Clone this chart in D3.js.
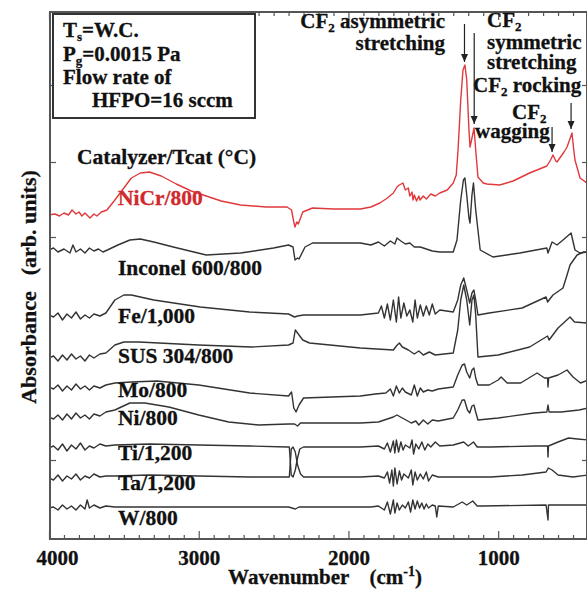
<!DOCTYPE html>
<html>
<head>
<meta charset="utf-8">
<script src="https://cdn.jsdelivr.net/npm/d3@7"></script>
<style>
  html, body { margin: 0; padding: 0; background: #fff; }
  svg { display: block; font-family: "Liberation Serif", "Times New Roman", serif; font-weight: bold; }
</style>
</head>
<body>
<script>
// spectra: [wavenumber (cm-1), absorbance (arb., offset)]
const niCr = [[4000,3.24],[3960,3.25],[3930,3.23],[3900,3.26],[3870,3.24],[3846,3.29],[3820,3.25],[3800,3.27],[3780,3.23],[3760,3.26],[3726,3.21],[3700,3.25],[3680,3.23],[3650,3.27],[3613,3.29],[3560,3.39],[3500,3.51],[3450,3.61],[3390,3.66],[3330,3.67],[3250,3.63],[3150,3.55],[3050,3.48],[2990,3.45],[2850,3.38],[2720,3.34],[2550,3.32],[2410,3.32],[2380,3.29],[2365,3.17],[2357,3.12],[2345,3.17],[2335,3.15],[2305,3.27],[2240,3.31],[2100,3.30],[1920,3.30],[1850,3.32],[1790,3.36],[1740,3.41],[1700,3.46],[1676,3.52],[1660,3.54],[1636,3.56],[1620,3.49],[1600,3.51],[1590,3.43],[1575,3.47],[1569,3.39],[1560,3.44],[1545,3.38],[1530,3.43],[1522,3.39],[1500,3.43],[1480,3.40],[1450,3.45],[1420,3.43],[1390,3.46],[1340,3.49],[1300,3.56],[1280,3.64],[1268,3.89],[1250,4.39],[1235,4.69],[1222,4.74],[1210,4.59],[1195,4.09],[1188,3.92],[1175,4.01],[1161,4.11],[1150,3.89],[1135,3.62],[1100,3.56],[1075,3.55],[990,3.54],[900,3.58],[790,3.66],[675,3.73],[650,3.79],[634,3.84],[615,3.78],[607,3.77],[560,3.87],[540,3.92],[507,4.06],[495,3.89],[487,3.79],[453,3.61],[400,3.55]];

const inconel = [[4000,2.89],[3970,2.91],[3940,2.87],[3900,2.90],[3860,2.86],[3840,2.94],[3820,2.87],[3790,2.90],[3760,2.86],[3730,2.91],[3700,2.88],[3670,2.90],[3640,2.87],[3610,2.89],[3540,2.94],[3460,2.99],[3390,3.00],[3300,2.97],[3170,2.92],[2950,2.84],[2720,2.86],[2500,2.91],[2400,2.94],[2370,2.92],[2357,2.79],[2340,2.81],[2330,2.80],[2290,2.92],[2240,2.96],[2100,2.96],[1920,2.96],[1850,2.94],[1800,2.97],[1760,2.93],[1720,2.98],[1690,2.95],[1676,3.01],[1650,2.98],[1620,2.95],[1590,2.96],[1560,2.92],[1520,2.92],[1480,2.90],[1440,2.88],[1390,2.87],[1300,2.87],[1275,2.99],[1250,3.39],[1232,3.59],[1222,3.61],[1210,3.44],[1195,3.21],[1188,3.16],[1175,3.44],[1165,3.56],[1150,3.29],[1120,2.89],[1035,2.82],[855,2.86],[675,2.91],[667,2.86],[640,2.97],[607,2.94],[567,2.99],[513,3.06],[487,2.89],[453,2.86],[400,2.87]];

const fe = [[4000,2.24],[3970,2.22],[3940,2.26],[3910,2.19],[3880,2.25],[3850,2.21],[3820,2.27],[3790,2.20],[3760,2.24],[3730,2.21],[3700,2.25],[3660,2.23],[3620,2.26],[3560,2.39],[3500,2.44],[3450,2.44],[3300,2.39],[2990,2.32],[2660,2.27],[2400,2.25],[2360,2.22],[2340,2.23],[2300,2.24],[1920,2.24],[1800,2.26],[1780,2.33],[1760,2.21],[1740,2.35],[1720,2.19],[1700,2.39],[1680,2.17],[1665,2.42],[1650,2.21],[1630,2.36],[1610,2.23],[1590,2.29],[1570,2.17],[1555,2.39],[1540,2.21],[1520,2.34],[1500,2.23],[1480,2.33],[1460,2.24],[1440,2.35],[1420,2.25],[1390,2.29],[1300,2.27],[1270,2.39],[1250,2.54],[1230,2.61],[1210,2.49],[1190,2.36],[1175,2.46],[1162,2.49],[1150,2.39],[1135,2.24],[1060,2.26],[840,2.31],[680,2.42],[670,2.37],[634,2.44],[567,2.51],[540,2.64],[520,2.74],[473,2.84],[430,2.87],[400,2.87]];

const sus304 = [[4000,1.81],[3970,1.83],[3940,1.78],[3910,1.84],[3880,1.79],[3850,1.85],[3820,1.80],[3790,1.83],[3760,1.78],[3730,1.84],[3700,1.81],[3660,1.85],[3620,1.86],[3560,1.94],[3500,1.97],[3400,1.97],[3000,1.94],[2650,1.92],[2400,1.94],[2370,1.96],[2355,2.09],[2340,2.06],[2305,1.99],[2260,1.96],[1920,1.91],[1700,1.89],[1680,1.93],[1660,1.96],[1640,1.92],[1600,1.89],[1560,1.85],[1530,1.88],[1500,1.84],[1460,1.87],[1420,1.84],[1300,1.86],[1270,2.09],[1250,2.39],[1230,2.54],[1210,2.39],[1190,2.14],[1175,2.39],[1162,2.44],[1150,2.24],[1135,1.82],[1000,1.84],[790,1.92],[670,2.03],[660,1.99],[600,2.11],[520,2.22],[490,2.17],[400,2.16]];

const mo = [[4000,1.52],[3970,1.50],[3940,1.54],[3910,1.48],[3880,1.53],[3850,1.49],[3820,1.55],[3790,1.50],[3760,1.53],[3730,1.49],[3700,1.53],[3660,1.51],[3620,1.54],[3560,1.56],[3450,1.57],[3280,1.58],[3000,1.54],[2660,1.46],[2400,1.43],[2380,1.47],[2365,1.31],[2350,1.27],[2330,1.34],[2300,1.41],[1920,1.43],[1820,1.45],[1750,1.46],[1720,1.50],[1700,1.43],[1680,1.53],[1660,1.46],[1640,1.51],[1620,1.47],[1580,1.44],[1560,1.54],[1540,1.43],[1520,1.51],[1500,1.47],[1470,1.49],[1440,1.48],[1400,1.50],[1300,1.52],[1270,1.64],[1240,1.74],[1225,1.75],[1210,1.67],[1190,1.61],[1175,1.69],[1162,1.71],[1150,1.61],[1135,1.54],[1060,1.54],[1000,1.59],[980,1.62],[940,1.56],[850,1.56],[740,1.66],[690,1.61],[670,1.61],[667,1.52],[663,1.61],[600,1.64],[540,1.69],[500,1.62],[450,1.56],[400,1.59]];

const ni = [[4000,1.22],[3970,1.20],[3940,1.24],[3910,1.19],[3880,1.25],[3850,1.20],[3820,1.26],[3790,1.21],[3760,1.24],[3730,1.20],[3700,1.25],[3660,1.23],[3620,1.27],[3560,1.29],[3460,1.36],[3360,1.36],[3200,1.32],[3000,1.24],[2800,1.17],[2600,1.14],[2400,1.15],[2360,1.15],[2340,1.13],[2320,1.16],[1920,1.16],[1800,1.17],[1700,1.22],[1676,1.24],[1640,1.21],[1580,1.16],[1550,1.18],[1530,1.14],[1500,1.19],[1470,1.15],[1440,1.19],[1400,1.18],[1300,1.21],[1270,1.29],[1240,1.39],[1225,1.39],[1205,1.29],[1190,1.26],[1175,1.33],[1162,1.34],[1150,1.27],[1135,1.19],[1000,1.21],[760,1.26],[675,1.27],[667,1.34],[660,1.27],[580,1.27],[460,1.29],[400,1.31]];

const ti = [[4000,0.91],[3970,0.93],[3940,0.89],[3910,0.95],[3880,0.88],[3850,0.94],[3820,0.90],[3790,0.96],[3760,0.89],[3730,0.93],[3700,0.91],[3660,0.95],[3620,0.93],[3560,0.94],[3330,0.95],[3000,0.94],[2660,0.93],[2410,0.92],[2395,0.92],[2388,0.77],[2382,0.64],[2370,0.62],[2355,0.69],[2340,0.81],[2325,0.90],[2300,0.92],[1920,0.92],[1800,0.93],[1760,0.90],[1740,0.96],[1720,0.87],[1700,0.98],[1690,0.86],[1680,0.99],[1665,0.87],[1650,0.97],[1635,0.89],[1620,0.94],[1590,0.91],[1575,0.99],[1565,0.85],[1550,0.95],[1530,0.90],[1510,0.97],[1490,0.89],[1470,0.95],[1450,0.92],[1420,0.97],[1390,0.93],[1300,0.94],[1230,0.97],[1200,0.93],[1165,0.97],[1140,0.92],[1050,0.92],[750,0.93],[670,0.93],[667,0.82],[664,0.93],[600,0.97],[530,1.01],[470,1.00],[400,0.99]];

const ta = [[4000,0.61],[3970,0.59],[3940,0.64],[3910,0.58],[3880,0.63],[3850,0.60],[3820,0.65],[3790,0.59],[3760,0.63],[3730,0.61],[3700,0.65],[3660,0.62],[3620,0.63],[3560,0.63],[3330,0.64],[3000,0.63],[2660,0.62],[2400,0.62],[2395,0.62],[2388,0.77],[2382,0.90],[2370,0.92],[2355,0.87],[2340,0.74],[2320,0.65],[2300,0.62],[1920,0.62],[1800,0.63],[1760,0.61],[1740,0.67],[1725,0.56],[1710,0.69],[1700,0.53],[1690,0.71],[1675,0.55],[1660,0.68],[1645,0.59],[1630,0.65],[1600,0.61],[1580,0.69],[1570,0.54],[1555,0.67],[1540,0.59],[1520,0.65],[1500,0.60],[1480,0.67],[1465,0.58],[1440,0.64],[1400,0.62],[1300,0.62],[1050,0.62],[840,0.64],[680,0.67],[665,0.71],[640,0.69],[600,0.64],[500,0.62],[400,0.64]];

const w800 = [[4000,0.31],[3970,0.32],[3940,0.29],[3910,0.34],[3880,0.30],[3850,0.33],[3820,0.29],[3790,0.34],[3760,0.30],[3745,0.39],[3730,0.31],[3700,0.34],[3660,0.31],[3620,0.33],[3560,0.32],[2400,0.32],[2355,0.30],[2330,0.32],[1850,0.32],[1800,0.33],[1760,0.29],[1740,0.37],[1720,0.25],[1700,0.39],[1690,0.26],[1675,0.36],[1660,0.29],[1640,0.34],[1620,0.31],[1600,0.37],[1585,0.27],[1570,0.39],[1555,0.30],[1540,0.38],[1525,0.31],[1510,0.36],[1495,0.30],[1480,0.35],[1465,0.31],[1440,0.34],[1420,0.33],[1410,0.22],[1400,0.33],[1300,0.32],[1240,0.37],[1210,0.34],[1170,0.38],[1140,0.33],[1100,0.33],[680,0.34],[667,0.19],[664,0.34],[400,0.34]];

const seriesData = [niCr, inconel, fe, sus304, mo, ni, ti, ta, w800];
const seriesNames = ["NiCr/800", "Inconel 600/800", "Fe/1,000", "SUS 304/800", "Mo/800", "Ni/800", "Ti/1,200", "Ta/1,200", "W/800"];
// label baseline level for each series (same units as absorbance)
const labelLevels = [3.34, 2.64, 2.16, 1.76, 1.42, 1.14, 0.79, 0.49, 0.14];

const majorTicks = [4000, 3000, 2000, 1000];
const minorTicks = [3900,3800,3700,3600,3500,3400,3300,3200,3100,2900,2800,2700,2600,2500,2400,2300,2200,2100,1900,1800,1700,1600,1500,1400,1300,1200,1100,900,800,700,600,500];
const leftTicks = [4.54, 3.77, 3.02, 0.79];

const width = 587, height = 590;
const x = d3.scaleLinear().domain([4000, 400]).range([49, 588]);
const y = d3.scaleLinear().domain([0, 5.27]).range([539, 12]);

const svg = d3.select("body").append("svg")
  .attr("width", width)
  .attr("height", height);

const defs = svg.append("defs");
defs.append("marker")
  .attr("id", "arrow")
  .attr("viewBox", "0 -4 8 8")
  .attr("refX", 8)
  .attr("markerWidth", 8)
  .attr("markerHeight", 8)
  .attr("markerUnits", "userSpaceOnUse")
  .attr("orient", "auto")
  .append("path")
  .attr("d", "M0,-3.5L8,0L0,3.5Z")
  .attr("fill", "#222");

defs.append("clipPath").attr("id", "plotClip")
  .append("rect").attr("x", 50).attr("y", 12).attr("width", 537).attr("height", 527);

// spectra
const line = d3.line().x(d => x(d[0])).y(d => y(d[1]));
svg.append("g")
  .attr("clip-path", "url(#plotClip)")
  .selectAll("path")
  .data(seriesData)
  .join("path")
  .attr("d", line)
  .attr("fill", "none")
  .attr("stroke", (d, i) => i === 0 ? "#e0393c" : "#333")
  .attr("stroke-width", 1.4)
  .attr("stroke-linejoin", "round");

// frame + ticks
const axisColor = "#555";
const gx = svg.append("g").attr("transform", `translate(0,${y(0)})`);
gx.call(d3.axisBottom(x).tickValues(majorTicks).tickSize(-8).tickPadding(11).tickFormat(d3.format("d")));
gx.append("g").call(d3.axisBottom(x).tickValues(minorTicks).tickSize(-4).tickFormat(""));
const gt = svg.append("g").attr("transform", `translate(0,${y(5.27)})`);
gt.call(d3.axisTop(x).tickValues(majorTicks).tickSize(-8).tickFormat(""));
gt.append("g").call(d3.axisTop(x).tickValues(minorTicks).tickSize(-4).tickFormat(""));
const gl = svg.append("g").attr("transform", "translate(50,0)");
gl.call(d3.axisLeft(y).tickValues(leftTicks).tickSize(-6).tickFormat(""));
const gr = svg.append("g").attr("transform", "translate(587,0)");
gr.call(d3.axisRight(y).tickValues(leftTicks).tickSize(-5).tickFormat(""));

svg.selectAll(".domain").remove();
svg.selectAll(".tick line").attr("stroke", axisColor).attr("stroke-width", 1.2);
gx.selectAll(".tick text")
  .attr("font-size", 21)
  .attr("font-family", "Liberation Serif")
  .attr("font-weight", "bold")
  .attr("fill", "#111")
  .attr("stroke", "#111")
  .attr("stroke-width", 0.3)
  .attr("dx", d => d === 4000 ? 8 : 0);

svg.append("rect")
  .attr("x", 50).attr("y", 12)
  .attr("width", 537).attr("height", 527)
  .attr("fill", "none")
  .attr("stroke", axisColor)
  .attr("stroke-width", 2);

// axis titles
const xTitle = svg.append("text")
  .attr("x", 325).attr("y", 584)
  .attr("text-anchor", "middle")
  .attr("font-size", 21)
  .attr("fill", "#111").attr("stroke", "#111").attr("stroke-width", 0.3);
xTitle.append("tspan").text("Wavenumber");
xTitle.append("tspan").attr("dx", 20).text("(cm");
xTitle.append("tspan").attr("dy", -8).attr("font-size", 14).text("-1");
xTitle.append("tspan").attr("dy", 8).text(")");

const yTitle = svg.append("text")
  .attr("transform", "translate(36,287) rotate(-90)")
  .attr("text-anchor", "middle")
  .attr("font-size", 22)
  .attr("fill", "#111").attr("stroke", "#111").attr("stroke-width", 0.3);
yTitle.append("tspan").text("Absorbance");
yTitle.append("tspan").attr("dx", 16).text("(arb. units)");

// series labels
svg.append("g")
  .selectAll("text")
  .data(seriesNames)
  .join("text")
  .attr("x", 118)
  .attr("y", (d, i) => y(labelLevels[i]))
  .attr("font-size", 21.5)
  .attr("fill", (d, i) => i === 0 ? "#d02a2d" : "#111")
  .attr("stroke", (d, i) => i === 0 ? "#d02a2d" : "#111")
  .attr("stroke-width", 0.3)
  .text(d => d);

svg.append("text")
  .attr("x", 77).attr("y", 164)
  .attr("font-size", 21.5)
  .attr("fill", "#111").attr("stroke", "#111").attr("stroke-width", 0.3)
  .text("Catalyzer/Tcat (°C)");

// condition box
svg.append("rect")
  .attr("x", 53).attr("y", 14)
  .attr("width", 202).attr("height", 104)
  .attr("fill", "#fff")
  .attr("stroke", "#333")
  .attr("stroke-width", 2);
const box = svg.append("g").attr("font-size", 21)
  .attr("fill", "#111").attr("stroke", "#111").attr("stroke-width", 0.3);
const l1 = box.append("text").attr("x", 63).attr("y", 37);
l1.append("tspan").text("T");
l1.append("tspan").attr("dy", 4).attr("font-size", 13).text("s");
l1.append("tspan").attr("dy", -4).text("=W.C.");
const l2 = box.append("text").attr("x", 63).attr("y", 61);
l2.append("tspan").text("P");
l2.append("tspan").attr("dy", 4).attr("font-size", 13).text("g");
l2.append("tspan").attr("dy", -4).text("=0.0015 Pa");
box.append("text").attr("x", 63).attr("y", 84).text("Flow rate of");
box.append("text").attr("x", 92).attr("y", 107).text("HFPO=16 sccm");

// peak annotations
function cf2(g, xPos, yPos, rest, anchor) {
  const t = g.append("text").attr("x", xPos).attr("y", yPos).attr("text-anchor", anchor || "start");
  t.append("tspan").text("CF");
  t.append("tspan").attr("dy", 4).attr("font-size", 13).text("2");
  t.append("tspan").attr("dy", -4).text(rest);
  return t;
}
const ann = svg.append("g").attr("font-size", 21)
  .attr("fill", "#111").attr("stroke", "#111").attr("stroke-width", 0.3);
cf2(ann, 445, 28, " asymmetric", "end");
ann.append("text").attr("x", 445).attr("y", 50).attr("text-anchor", "end").text("stretching");
cf2(ann, 487, 27, "");
ann.append("text").attr("x", 487).attr("y", 49).text("symmetric");
ann.append("text").attr("x", 487).attr("y", 69).text("stretching");
cf2(ann, 473, 92, " rocking");
cf2(ann, 512, 119, "");
ann.append("text").attr("x", 475).attr("y", 138).text("wagging");

const arrows = [
  [1225, 24, 62],
  [1160, 33, 124],
  [640, 127, 152],
  [513, 103, 129]
];
svg.append("g")
  .selectAll("line")
  .data(arrows)
  .join("line")
  .attr("x1", d => x(d[0])).attr("x2", d => x(d[0]))
  .attr("y1", d => d[1]).attr("y2", d => d[2])
  .attr("stroke", "#222")
  .attr("stroke-width", 1.2)
  .attr("marker-end", "url(#arrow)");
</script>
</body>
</html>
